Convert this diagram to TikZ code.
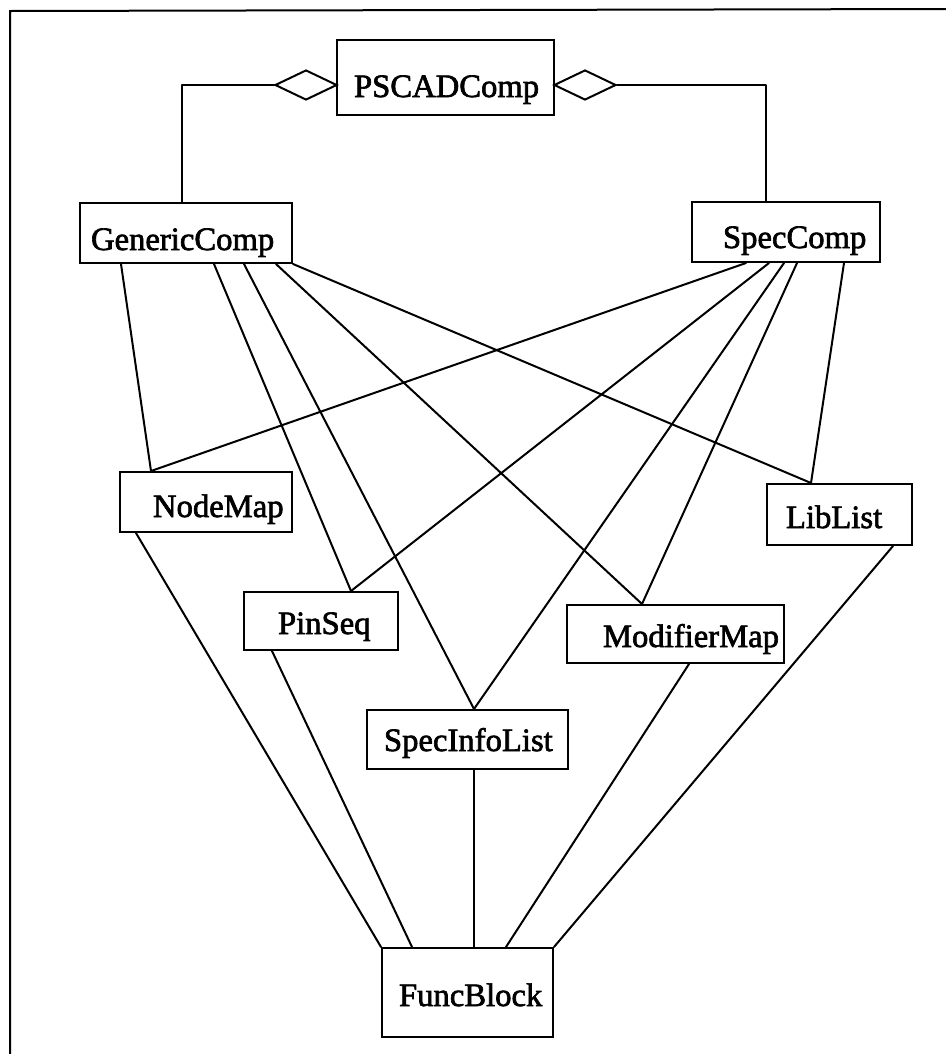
\documentclass[tikz,border=0pt]{standalone}
\usepackage{fontspec}
\setmainfont{Liberation Serif}
\newfontfamily\classfont{Liberation Serif}[FakeBold=2]
\usetikzlibrary{calc,fit,shapes.geometric}
\begin{document}
\begin{tikzpicture}[x=0.75pt,y=-0.75pt,
  line width=1.5pt,
  box/.style={draw, rectangle, inner sep=0pt, fit={#1}},
  lbl/.style={anchor=base west, inner sep=0pt, font=\classfont\fontsize{24.5}{29}\selectfont},
  agg/.style={draw, diamond, inner sep=0pt, minimum width=46.5pt, minimum height=22.5pt},
  link/.style={line cap=round, line join=round}]
\useasboundingbox (0,0) rectangle (946,1054);

% frame
\draw (946,9) -- (10,11) -- (10,1054);

% classes
\node[box={(337,40) (554,115)}] (psc) {};
\node[lbl] (psc-t) at (353,97) {PSCADComp};

\node[box={(80,203) (292,263)}] (gen) {};
\node[lbl] (gen-t) at (90,250) {GenericComp};

\node[box={(692,202) (880,262)}] (spec) {};
\node[lbl] (spec-t) at (722,248) {SpecComp};

\node[box={(120,472) (292,532)}] (nm) {};
\node[lbl] (nm-t) at (152,517) {NodeMap};

\node[box={(767,484) (912,545)}] (ll) {};
\node[lbl] (ll-t) at (785,528) {LibList};

\node[box={(244,592) (398,650)}] (pin) {};
\node[lbl] (pin-t) at (277,634) {PinSeq};

\node[box={(567,605) (784,663)}] (mm) {};
\node[lbl] (mm-t) at (602,647) {ModifierMap};

\node[box={(367,710) (568,769)}] (sil) {};
\node[lbl] (sil-t) at (383,751) {SpecInfoList};

\node[box={(382,948) (553,1037)}] (fb) {};
\node[lbl] (fb-t) at (398,1006) {FuncBlock};

% aggregation diamonds
\node[agg] (dl) at (306,85) {};
\node[agg] (dr) at (585,85) {};

% aggregation links
\draw[link] (dl.west) -| ($(gen.north west)+(103,0)$);
\draw[link] (dr.east) -| ($(spec.north west)+(75,0)$);

% GenericComp associations
\draw[link] ($(gen.south west)+(42,0)$)  -- ($(nm.north west)+(32,0)$);
\draw[link] ($(gen.south west)+(135,0)$) -- ($(pin.north west)+(108,0)$);
\draw[link] ($(gen.south west)+(165,0)$) -- ($(sil.north west)+(108,0)$);
\draw[link] ($(gen.south west)+(197,0)$) -- ($(mm.north west)+(76,0)$);
\draw[link] (gen.south east) -- ($(ll.north west)+(45,0)$);

% SpecComp associations
\draw[link] ($(spec.south west)+(55,0)$)  -- ($(nm.north west)+(32,0)$);
\draw[link] ($(spec.south west)+(78,0)$)  -- ($(pin.north west)+(108,0)$);
\draw[link] ($(spec.south west)+(93,0)$)  -- ($(sil.north west)+(108,0)$);
\draw[link] ($(spec.south west)+(106,0)$) -- ($(mm.north west)+(76,0)$);
\draw[link] ($(spec.south west)+(153,0)$) -- ($(ll.north west)+(45,0)$);

% FuncBlock associations
\draw[link] ($(nm.south west)+(17,0)$)   -- (fb.north west);
\draw[link] ($(pin.south west)+(29,0)$)  -- ($(fb.north west)+(31,0)$);
\draw[link] ($(sil.south west)+(108,0)$) -- ($(fb.north west)+(93,0)$);
\draw[link] ($(mm.south west)+(123,0)$)  -- ($(fb.north west)+(125,0)$);
\draw[link] ($(ll.south west)+(127,0)$)  -- (fb.north east);
\end{tikzpicture}
\end{document}
